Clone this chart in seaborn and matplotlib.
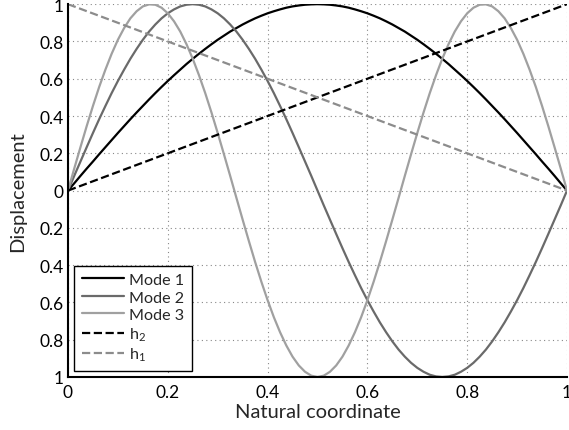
import numpy as np
import pandas as pd
import matplotlib
matplotlib.use("Agg")
import matplotlib.pyplot as plt
import seaborn as sns

# values, x step 0.0125
x = [i / 80 for i in range(81)]
mode1 = [0.000, 0.039, 0.079, 0.118, 0.156, 0.195, 0.233, 0.271, 0.309, 0.346,
         0.383, 0.419, 0.454, 0.489, 0.523, 0.556, 0.588, 0.619, 0.649, 0.679,
         0.707, 0.734, 0.760, 0.785, 0.809, 0.831, 0.853, 0.872, 0.891, 0.908,
         0.924, 0.938, 0.951, 0.962, 0.972, 0.981, 0.988, 0.993, 0.997, 0.999,
         1.000,
         0.999, 0.997, 0.993, 0.988, 0.981, 0.972, 0.962, 0.951, 0.938, 0.924,
         0.908, 0.891, 0.872, 0.853, 0.831, 0.809, 0.785, 0.760, 0.734, 0.707,
         0.679, 0.649, 0.619, 0.588, 0.556, 0.523, 0.489, 0.454, 0.419, 0.383,
         0.346, 0.309, 0.271, 0.233, 0.195, 0.156, 0.118, 0.079, 0.039, 0.000]
mode2 = [0.000, 0.079, 0.156, 0.233, 0.309, 0.383, 0.454, 0.523, 0.588, 0.649,
         0.707, 0.760, 0.809, 0.853, 0.891, 0.924, 0.951, 0.972, 0.988, 0.997,
         1.000, 0.997, 0.988, 0.972, 0.951, 0.924, 0.891, 0.853, 0.809, 0.760,
         0.707, 0.649, 0.588, 0.523, 0.454, 0.383, 0.309, 0.233, 0.156, 0.079,
         0.000,
         -0.079, -0.156, -0.233, -0.309, -0.383, -0.454, -0.523, -0.588, -0.649,
         -0.707, -0.760, -0.809, -0.853, -0.891, -0.924, -0.951, -0.972, -0.988,
         -0.997, -1.000, -0.997, -0.988, -0.972, -0.951, -0.924, -0.891, -0.853,
         -0.809, -0.760, -0.707, -0.649, -0.588, -0.523, -0.454, -0.383, -0.309,
         -0.233, -0.156, -0.079, 0.000]
mode3 = [0.000, 0.118, 0.233, 0.346, 0.454, 0.556, 0.649, 0.734, 0.809, 0.872,
         0.924, 0.962, 0.988, 0.999, 0.997, 0.981, 0.951, 0.908, 0.853, 0.785,
         0.707, 0.619, 0.523, 0.419, 0.309, 0.195, 0.079, -0.039, -0.156, -0.271,
         -0.383, -0.489, -0.588, -0.679, -0.760, -0.831, -0.891, -0.938, -0.972,
         -0.993, -1.000,
         -0.993, -0.972, -0.938, -0.891, -0.831, -0.760, -0.679, -0.588, -0.489,
         -0.383, -0.271, -0.156, -0.039, 0.079, 0.195, 0.309, 0.419, 0.523,
         0.619, 0.707, 0.785, 0.853, 0.908, 0.951, 0.981, 0.997, 0.999, 0.988,
         0.962, 0.924, 0.872, 0.809, 0.734, 0.649, 0.556, 0.454, 0.346, 0.233,
         0.118, 0.000]
x_lin = [0.0, 1.0]
h2 = [0.0, 1.0]
h1 = [1.0, 0.0]

x_ticks = [0, 0.2, 0.4, 0.6, 0.8, 1]
x_ticklabels = ["0", "0.2", "0.4", "0.6", "0.8", "1"]
y_ticks = [-1, -0.8, -0.6, -0.4, -0.2, 0, 0.2, 0.4, 0.6, 0.8, 1]
y_ticklabels = ["1", "0.8", "0.6", "0.4", "0.2", "0", "0.2", "0.4", "0.6", "0.8", "1"]

sns.set_style("white")
plt.rcParams["font.family"] = ["Lato", "DejaVu Sans"]
plt.rcParams["mathtext.fontset"] = "custom"
plt.rcParams["mathtext.rm"] = "Lato"
plt.rcParams["mathtext.it"] = "Lato"

fig = plt.figure(figsize=(5.69, 4.31), dpi=100)
ax = fig.add_axes([0.1195, 0.123, 0.877, 0.865])

lw = 1.6
sns.lineplot(x=x, y=mode1, color="black", lw=lw, label="Mode 1", ax=ax)
sns.lineplot(x=x, y=mode2, color="#6a6a6a", lw=lw, label="Mode 2", ax=ax)
sns.lineplot(x=x, y=mode3, color="#a0a0a0", lw=lw, label="Mode 3", ax=ax)
sns.lineplot(x=x_lin, y=h2, color="black", lw=lw, linestyle="--", label="h$_2$", ax=ax)
sns.lineplot(x=x_lin, y=h1, color="#8c8c8c", lw=lw, linestyle="--", label="h$_1$", ax=ax)

ax.set_xlim(0, 1)
ax.set_ylim(-1, 1)
ax.set_xticks(x_ticks)
ax.set_xticklabels(x_ticklabels)
ax.set_yticks(y_ticks)
ax.set_yticklabels(y_ticklabels)
ax.tick_params(direction="in", length=4, width=1, labelsize=12.5, colors="black")
ax.tick_params(axis="x", pad=5)
ax.tick_params(axis="y", pad=3)
ax.grid(True, color="#888888", linestyle=(0, (1, 3)), linewidth=0.8)
for s in ["top", "right"]:
    ax.spines[s].set_visible(False)
for s in ["left", "bottom"]:
    ax.spines[s].set_color("black")
    ax.spines[s].set_linewidth(1.5)

ax.set_xlabel("Natural coordinate", fontsize=14.5, labelpad=2)
ax.set_ylabel("Displacement", fontsize=14.5, labelpad=10)

leg = ax.legend(loc="lower left", fontsize=11.6, frameon=True, fancybox=False,
                framealpha=1, edgecolor="black", handlelength=2.6,
                labelspacing=0.2, borderpad=0.45, handletextpad=0.35,
                borderaxespad=0.4)
leg.get_frame().set_linewidth(1.0)

fig.savefig("out.png", dpi=100)
